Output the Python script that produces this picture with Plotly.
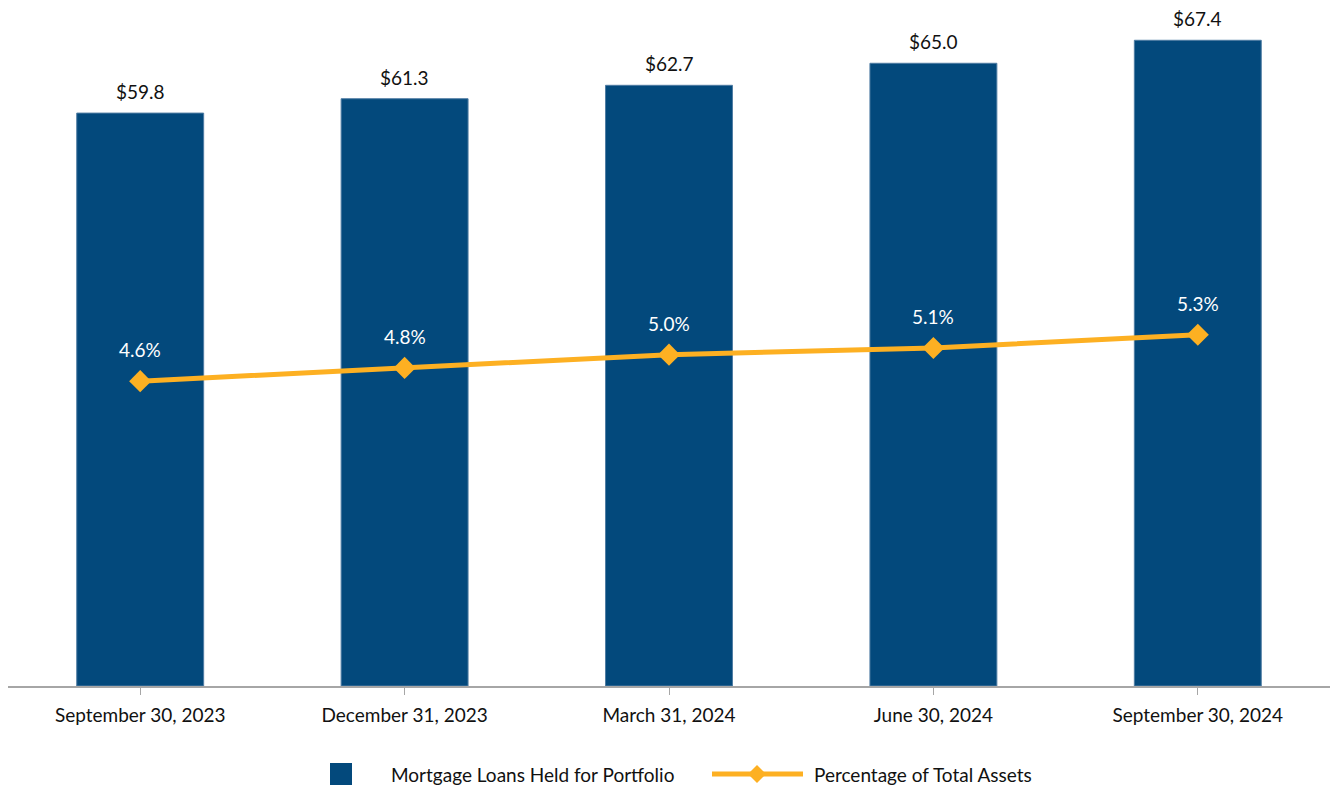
import plotly.graph_objects as go

# Quarter-end dates and the two series
periods = ["September 30, 2023", "December 31, 2023", "March 31, 2024",
           "June 30, 2024", "September 30, 2024"]
loans_billion = [59.8, 61.3, 62.7, 65.0, 67.4]
pct_total_assets = [4.6, 4.8, 5.0, 5.1, 5.3]

bar_labels = [f"${v:.1f}" for v in loans_billion]
pct_labels = [f"{v:.1f}%" for v in pct_total_assets]

NAVY = "#03497C"
GOLD = "#FDB022"
FONT = "Lato, 'Open Sans', sans-serif"
TXT = 19

W, H = 1330, 786
M_L, M_R, M_T, M_B = 8, 0, 10, 100

fig = go.Figure()

fig.add_trace(go.Bar(
    x=periods, y=loans_billion, name="Mortgage Loans Held for Portfolio",
    marker=dict(color=NAVY, line=dict(color="#4F7CA3", width=1)),
    showlegend=False, hoverinfo="skip",
))

fig.add_trace(go.Scatter(
    x=periods, y=pct_total_assets, yaxis="y2", name="Percentage of Total Assets",
    mode="lines+markers",
    line=dict(color=GOLD, width=5),
    marker=dict(symbol="diamond", size=17, color=GOLD),
    showlegend=False, hoverinfo="skip",
))

annotations = []
for p, v, t in zip(periods, loans_billion, bar_labels):
    annotations.append(dict(x=p, y=v, xref="x", yref="y", text=t, showarrow=False,
                            yanchor="bottom", yshift=8,
                            font=dict(size=TXT, color="#111111", family=FONT)))
for p, v, t in zip(periods, pct_total_assets, pct_labels):
    annotations.append(dict(x=p, y=v, xref="x", yref="y2", text=t, showarrow=False,
                            yanchor="bottom", yshift=18,
                            font=dict(size=TXT, color="#FFFFFF", family=FONT)))

# Legend drawn below the axis
pw = W - M_L - M_R
ph = H - M_T - M_B


def px_x(x):
    return (x - M_L) / pw


def px_y(y):
    return (H - M_B - y) / ph


shapes = [
    dict(type="rect", xref="paper", yref="paper",
         x0=px_x(330), x1=px_x(352), y0=px_y(785), y1=px_y(763),
         fillcolor=NAVY, line=dict(width=0)),
    dict(type="line", xref="paper", yref="paper",
         x0=px_x(712), x1=px_x(803), y0=px_y(774), y1=px_y(774),
         line=dict(color=GOLD, width=5)),
    dict(type="path", xref="paper", yref="paper",
         path=(f"M {px_x(757)} {px_y(765)} L {px_x(766)} {px_y(774)} "
               f"L {px_x(757)} {px_y(783)} L {px_x(748)} {px_y(774)} Z"),
         fillcolor=GOLD, line=dict(width=0)),
]
annotations.append(dict(x=px_x(389), y=px_y(774), xref="paper", yref="paper",
                        text="Mortgage Loans Held for Portfolio", showarrow=False,
                        xanchor="left", yanchor="middle",
                        font=dict(size=TXT, color="#111111", family=FONT)))
annotations.append(dict(x=px_x(812), y=px_y(774), xref="paper", yref="paper",
                        text="Percentage of Total Assets", showarrow=False,
                        xanchor="left", yanchor="middle",
                        font=dict(size=TXT, color="#111111", family=FONT)))

fig.update_layout(
    width=W, height=H,
    margin=dict(l=M_L, r=M_R, t=M_T, b=M_B, pad=0),
    paper_bgcolor="white", plot_bgcolor="white",
    bargap=0.52,
    font=dict(family=FONT, size=TXT, color="#111111"),
    xaxis=dict(showline=True, linecolor="#A6A6A6", linewidth=2,
               ticks="outside", ticklen=7, tickcolor="#A6A6A6", tickwidth=1,
               ticklabelstandoff=4,
               tickfont=dict(size=TXT, color="#111111"), showgrid=False),
    yaxis=dict(range=[0, 70.56], visible=False, showgrid=False),
    yaxis2=dict(range=[0, 10.2], overlaying="y", visible=False, showgrid=False),
    annotations=annotations,
    shapes=shapes,
    showlegend=False,
)

fig.write_html("out.html")
